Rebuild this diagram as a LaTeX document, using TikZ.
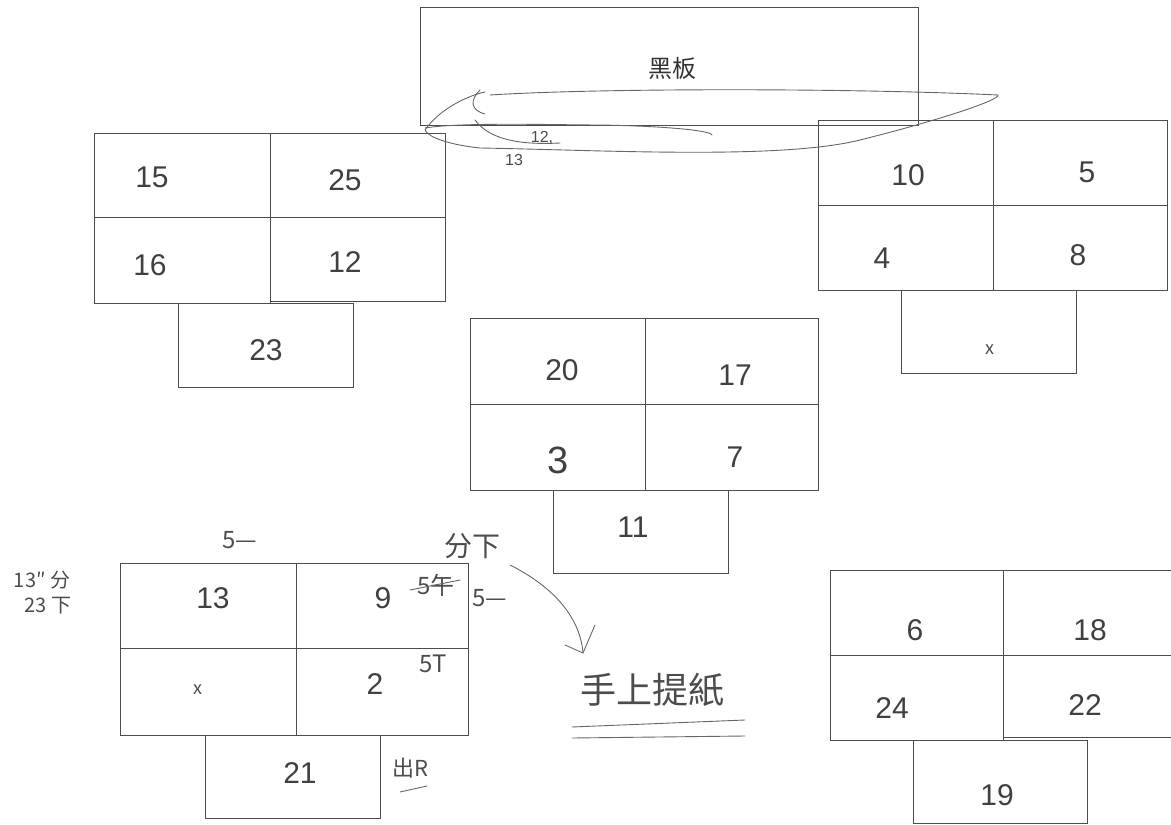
\documentclass[tikz,border=0pt]{standalone}
\usepackage{fontspec}
\setmainfont{Liberation Sans}
\newfontfamily\cjk{Noto Sans CJK SC}
\begin{document}
\begin{tikzpicture}[x=1pt,y=-1pt,
  cell/.style={draw=black!70, line width=1.2pt, inner sep=0pt, anchor=north west},
  num/.style={text=black!75, font=\fontsize{30}{34}\selectfont, inner sep=0pt},
  small/.style={text=black!70, font=\cjk\fontsize{18}{20}\selectfont, inner sep=0pt},
  hand/.style={text=black!70, font=\cjk\fontsize{28}{30}\selectfont, inner sep=0pt},
  pen/.style={draw=black!60, line width=0.9pt, line cap=round, line join=round}]
\useasboundingbox (0,0) rectangle (1171,825);
% blackboard
\node[cell, minimum width=498pt, minimum height=118pt] (board) at (420,7) {};
\node[text=black!80, font=\cjk\fontsize{24}{26}\selectfont] (boardt) at (672,68) {黑板};
% group 1
\node[cell, minimum width=176pt, minimum height=84pt] (a1) at (94,133) {};
\node[cell, minimum width=175pt, minimum height=84pt] (a2) at (270,133) {};
\node[cell, minimum width=176pt, minimum height=86pt] (a3) at (94,217) {};
\node[cell, minimum width=175pt, minimum height=84pt] (a4) at (270,217) {};
\node[cell, minimum width=175pt, minimum height=84pt] (a5) at (178,303) {};
\node[num] (a1t) at (152,177) {15};
\node[num] (a2t) at (345,180) {25};
\node[num] (a3t) at (150,265) {16};
\node[num] (a4t) at (345,262) {12};
\node[num] (a5t) at (266,350) {23};
% group 2
\node[cell, minimum width=175pt, minimum height=85pt] (b1) at (818,120) {};
\node[cell, minimum width=174pt, minimum height=85pt] (b2) at (993,120) {};
\node[cell, minimum width=175pt, minimum height=85pt] (b3) at (818,205) {};
\node[cell, minimum width=174pt, minimum height=85pt] (b4) at (993,205) {};
\node[cell, minimum width=175pt, minimum height=83pt] (b5) at (901,290) {};
\node[num] (b1t) at (908,175) {10};
\node[num] (b2t) at (1087,172) {5};
\node[num] (b3t) at (882,258) {4};
\node[num] (b4t) at (1078,255) {8};
\node[small] (b5t) at (990,350) {x};
% group 3
\node[cell, minimum width=175pt, minimum height=86pt] (c1) at (470,318) {};
\node[cell, minimum width=173pt, minimum height=86pt] (c2) at (645,318) {};
\node[cell, minimum width=175pt, minimum height=86pt] (c3) at (470,404) {};
\node[cell, minimum width=173pt, minimum height=86pt] (c4) at (645,404) {};
\node[cell, minimum width=175pt, minimum height=83pt] (c5) at (553,490) {};
\node[num] (c1t) at (562,370) {20};
\node[num] (c2t) at (735,375) {17};
\node[num, font=\fontsize{38}{40}\selectfont] (c3t) at (558,460) {3};
\node[num] (c4t) at (735,457) {7};
\node[num] (c5t) at (633,527) {11};
% group 4
\node[cell, minimum width=176pt, minimum height=85pt] (d1) at (120,563) {};
\node[cell, minimum width=172pt, minimum height=85pt] (d2) at (296,563) {};
\node[cell, minimum width=176pt, minimum height=87pt] (d3) at (120,648) {};
\node[cell, minimum width=172pt, minimum height=87pt] (d4) at (296,648) {};
\node[cell, minimum width=175pt, minimum height=83pt] (d5) at (205,735) {};
\node[num] (d1t) at (213,598) {13};
\node[num] (d2t) at (383,598) {9};
\node[small] (d3t) at (198,690) {x};
\node[num] (d4t) at (375,684) {2};
\node[num] (d5t) at (300,773) {21};
% group 5
\node[cell, minimum width=173pt, minimum height=85pt] (e1) at (830,570) {};
\node[cell, minimum width=168pt, minimum height=85pt] (e2) at (1003,570) {};
\node[cell, minimum width=173pt, minimum height=85pt] (e3) at (830,655) {};
\node[cell, minimum width=168pt, minimum height=82pt] (e4) at (1003,655) {};
\node[cell, minimum width=174pt, minimum height=83pt] (e5) at (913,740) {};
\node[num] (e1t) at (915,630) {6};
\node[num] (e2t) at (1090,630) {18};
\node[num] (e3t) at (892,708) {24};
\node[num] (e4t) at (1085,705) {22};
\node[num] (e5t) at (997,795) {19};
% annotations
\node[small, font=\cjk\fontsize{24}{26}\selectfont] (n1) at (240,540) {5—};
\node[hand] (n2) at (472,546) {分下};
\node[small, font=\cjk\fontsize{24}{26}\selectfont] (n3) at (436,585) {5午};
\draw[pen] (410,590) -- (460,580);
\node[small, font=\cjk\fontsize{24}{26}\selectfont] (n4) at (490,598) {5—};
\node[small, font=\cjk\fontsize{24}{26}\selectfont] (n5) at (433,664) {5T};
\node[hand, font=\cjk\fontsize{36}{40}\selectfont] (n6) at (652,690) {手上提紙};
\draw[pen] (572,727) -- (745,720);
\draw[pen] (572,738) -- (745,736);
\coordinate (arrs) at (510,565);
\coordinate (arre) at (583,653);
\draw[pen] (arrs) .. controls (550,585) and (580,615) .. (arre);
\draw[pen] (565,645) -- (583,653) -- (595,625);
\node[small, font=\cjk\fontsize{22}{24}\selectfont] (n7) at (410,768) {出R};
\draw[pen] (400,792) -- (427,786);
\node[small, font=\cjk\fontsize{20}{22}\selectfont] (n8) at (42,580) {13″ 分};
\node[small, font=\cjk\fontsize{20}{22}\selectfont] (n9) at (48,606) {23 下};
% blackboard scribbles
\draw[pen] (490,95) .. controls (600,88) and (850,88) .. (998,95)
  .. controls (1000,100) and (940,120) .. (860,140)
  .. controls (780,160) and (600,150) .. (480,148)
  .. controls (460,146) and (430,140) .. (425,130)
  .. controls (440,108) and (470,95) .. (485,92);
\draw[pen] (425,128) .. controls (460,122) and (560,125) .. (600,125)
  .. controls (660,126) and (710,130) .. (712,135);
\draw[pen] (480,90) .. controls (470,100) and (470,110) .. (485,114);
\draw[pen] (475,120) .. controls (490,140) and (520,145) .. (560,143);
\node[small, font=\fontsize{16}{18}\selectfont] (n10) at (542,138) {12,};
\node[small, font=\fontsize{16}{18}\selectfont] (n11) at (514,160) {13};
\end{tikzpicture}
\end{document}
